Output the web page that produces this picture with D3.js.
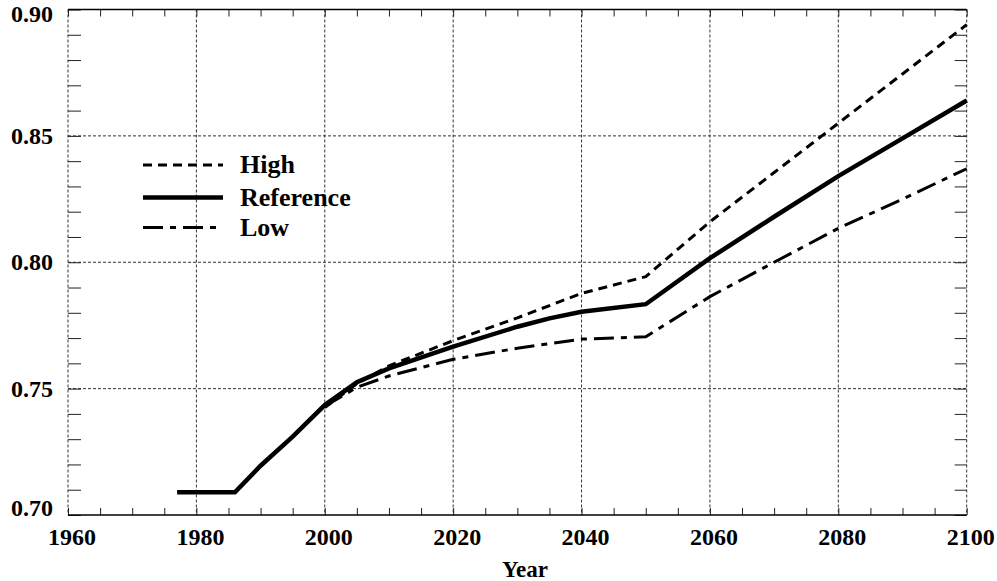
<!DOCTYPE html>
<html>
<head>
<meta charset="utf-8">
<script src="https://cdn.jsdelivr.net/npm/d3@7"></script>
<style>
    body { margin: 0; background: #fff; }
    svg { display: block; font-family: "Liberation Serif", "Times New Roman", serif; font-weight: bold; }
    .grid { stroke: #333; stroke-width: 1; stroke-dasharray: 3,2; }
    .tick line { stroke: #222; }
    .domain { display: none; }
</style>
</head>
<body>
<div class="container"></div>
<script>
const WIDTH = 997,
    HEIGHT = 581,
    LEFT = 68,
    RIGHT = 966.7,
    TOP = 9.5,
    BOTTOM = 515;

// year label ticks and value ticks
var xMajor = [1960, 1980, 2000, 2020, 2040, 2060, 2080, 2100];
var yMajor = [0.70, 0.75, 0.80, 0.85, 0.90];

var refYears = [1977, 1986, 1990, 1995, 2000, 2005, 2010, 2020, 2030, 2035, 2040, 2050, 2060, 2070, 2080, 2090, 2100];
var refValues = [0.709, 0.709, 0.7195, 0.731, 0.7435, 0.7525, 0.758, 0.7666, 0.7745, 0.7778, 0.7804, 0.7834, 0.8016, 0.818, 0.8341, 0.849, 0.864];

var projYears = [2000, 2005, 2010, 2020, 2030, 2040, 2050, 2060, 2070, 2080, 2090, 2100];
var highValues = [0.7425, 0.752, 0.759, 0.769, 0.778, 0.7877, 0.7943, 0.816, 0.8355, 0.855, 0.8745, 0.894];
var lowValues = [0.743, 0.7505, 0.755, 0.7616, 0.766, 0.7696, 0.7705, 0.7864, 0.800, 0.8134, 0.825, 0.837];

var series = [
    { name: 'High', years: projYears, values: highValues, width: 3, dash: '9,6' },
    { name: 'Reference', years: refYears, values: refValues, width: 4.5, dash: null },
    { name: 'Low', years: projYears, values: lowValues, width: 3, dash: '20,7,6,7' }
];

var translate = (x, y) => "translate(" + x + "," + y + ")";

var svg = d3.select('.container').append('svg')
    .attr('width', WIDTH)
    .attr('height', HEIGHT);

var x = d3.scaleLinear().domain([1960, 2100]).range([LEFT, RIGHT]);
var y = d3.scaleLinear().domain([0.70, 0.90]).range([BOTTOM, TOP]);

var xMinor = d3.range(1960, 2101, 5);
var yMinor = d3.range(70, 91, 1).map(v => v / 100);

// grid lines
svg.selectAll('.vgrid').data(xMajor).enter().append('line')
    .classed('grid', true)
    .attr('x1', d => x(d)).attr('x2', d => x(d))
    .attr('y1', TOP).attr('y2', BOTTOM);

svg.selectAll('.hgrid').data(yMajor.slice(1, -1)).enter().append('line')
    .classed('grid', true)
    .attr('x1', LEFT).attr('x2', RIGHT)
    .attr('y1', d => y(d)).attr('y2', d => y(d));

// minor ticks on all four sides
svg.append('g').attr('transform', translate(0, BOTTOM))
    .call(d3.axisBottom(x).tickValues(xMinor).tickSize(-7).tickFormat(''));
svg.append('g').attr('transform', translate(0, TOP))
    .call(d3.axisTop(x).tickValues(xMinor).tickSize(-7).tickFormat(''));
svg.append('g').attr('transform', translate(LEFT, 0))
    .call(d3.axisLeft(y).tickValues(yMinor).tickSize(-13).tickFormat(''));
svg.append('g').attr('transform', translate(RIGHT, 0))
    .call(d3.axisRight(y).tickValues(yMinor).tickSize(-12).tickFormat(''));

// frame
svg.append('line').attr('x1', LEFT).attr('x2', RIGHT).attr('y1', TOP).attr('y2', TOP)
    .attr('stroke', '#000').attr('stroke-width', 1.5);
svg.append('line').attr('x1', LEFT).attr('x2', RIGHT).attr('y1', BOTTOM).attr('y2', BOTTOM)
    .attr('stroke', '#000').attr('stroke-width', 1.5);

// labels
svg.selectAll('.xlab').data(xMajor).enter().append('text')
    .attr('x', d => x(d) + 4)
    .attr('y', 545)
    .attr('text-anchor', 'middle')
    .style('font-size', '24px')
    .text(d => d);

// end labels are pulled inside the frame, like the original
svg.selectAll('.ylab').data(yMajor).enter().append('text')
    .attr('x', 53)
    .attr('y', (d, i) => y(d) + (i == 0 ? 1 : i == yMajor.length - 1 ? 12 : 8))
    .attr('text-anchor', 'end')
    .style('font-size', '24px')
    .text(d => d.toFixed(2));

svg.append('text')
    .attr('x', 525)
    .attr('y', 577)
    .attr('text-anchor', 'middle')
    .style('font-size', '23px')
    .text('Year');

// lines
var line = d3.line()
    .x(d => x(d[0]))
    .y(d => y(d[1]));

svg.selectAll('.series').data(series).enter().append('path')
    .attr('d', s => line(s.years.map((yr, i) => [yr, s.values[i]])))
    .attr('fill', 'none')
    .attr('stroke', '#000')
    .attr('stroke-width', s => s.width)
    .attr('stroke-dasharray', s => s.dash);

// legend
var legend = svg.selectAll('.legend').data(series).enter().append('g')
    .attr('transform', (s, i) => translate(143, [165, 197.5, 227.5][i]));

legend.append('line')
    .attr('x1', 0).attr('x2', 80)
    .attr('stroke', '#000')
    .attr('stroke-width', s => s.width)
    .attr('stroke-dasharray', s => s.dash);

legend.append('text')
    .attr('x', 97)
    .attr('y', 8)
    .style('font-size', '26px')
    .text(s => s.name);
</script>
</body>
</html>
